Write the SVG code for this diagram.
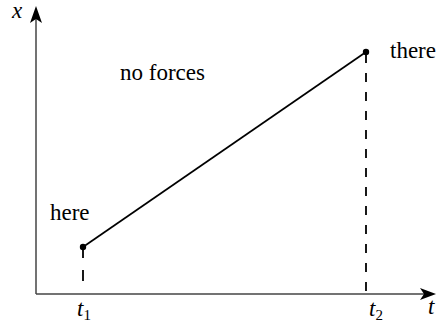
<svg xmlns="http://www.w3.org/2000/svg" width="436" height="326" viewBox="0 0 436 326">
<style>
.axis{stroke:#444;stroke-width:1.5;fill:none}
.line{stroke:#000;stroke-width:1.7;fill:none}
.dash{stroke:#000;stroke-width:1.8;fill:none}
.lbl{font-size:23px;fill:#000}
.it{font-style:italic}
.sub{font-size:15px;font-style:normal}
.head{fill:#000}
</style>
<rect width="436" height="326" fill="#fff"/>
<g id="connectors">
<path class="axis" d="M36,294 V14"/>
<path class="axis" d="M36,294 H428"/>
<path class="head" d="M36,6 L42,23 L36,19 L30,23 Z"/>
<path class="head" d="M436,294 L420,300 L424,294 L420,288 Z"/>
<path class="line" d="M83,247 L366,52"/>
<path class="dash" d="M366,54 V292" stroke-dasharray="9 10"/>
<path class="dash" d="M83,247 V258 M83,270 V281"/>
</g>
<g id="here-point"><circle cx="83" cy="247" r="3.2"/></g>
<g id="there-point"><circle cx="366" cy="52" r="3.2"/></g>
<g id="labels" font-family="Liberation Serif, DejaVu Serif, serif">
<text class="lbl it" x="12" y="18" font-size="18">x</text>
<text class="lbl" x="120" y="80">no forces</text>
<text class="lbl" x="390" y="58">there</text>
<text class="lbl" x="50" y="220">here</text>
<text class="lbl it" x="77" y="316" font-size="21">t<tspan class="sub" dy="4">1</tspan></text>
<text class="lbl it" x="369" y="316" font-size="21">t<tspan class="sub" dy="4">2</tspan></text>
<text class="lbl it" x="428" y="314" font-size="21">t</text>
</g>
</svg>
